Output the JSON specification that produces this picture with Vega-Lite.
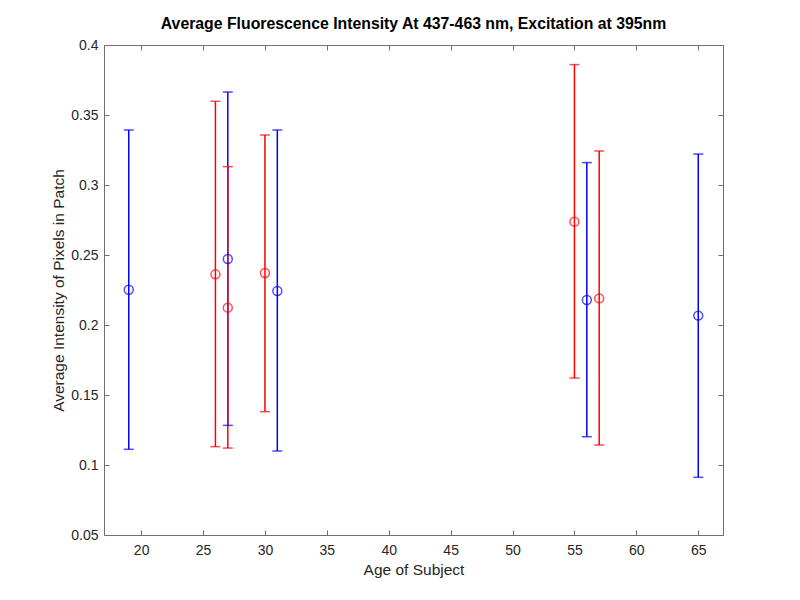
{
  "$schema": "https://vega.github.io/schema/vega-lite/v6.json",
  "autosize": "none",
  "width": 619,
  "height": 490,
  "padding": {"left": 104, "top": 45, "right": 77, "bottom": 65},
  "background": "white",
  "config": {
    "font": "Liberation Sans",
    "view": {"stroke": null},
    "axis": {
      "grid": false,
      "domainColor": "#707070",
      "domainWidth": 1,
      "tickColor": "#707070",
      "tickWidth": 1,
      "tickSize": -5,
      "labelColor": "#262626",
      "labelFont": "Liberation Sans",
      "labelFontSize": 14,
      "titleColor": "#262626",
      "titleFont": "Liberation Sans",
      "titleFontSize": 15.5,
      "titleFontWeight": "normal"
    }
  },
  "title": {
    "text": "Average Fluorescence Intensity At 437-463 nm, Excitation at 395nm",
    "font": "Liberation Sans",
    "fontSize": 15.8,
    "fontWeight": "bold",
    "color": "#000000",
    "offset": 5
  },
  "data": {
    "values": [
      {"age": 19, "mean": 0.2252, "lo": 0.1112, "hi": 0.3393, "group": "blue"},
      {"age": 26, "mean": 0.2362, "lo": 0.1131, "hi": 0.3598, "group": "red"},
      {"age": 27, "mean": 0.2471, "lo": 0.1283, "hi": 0.3664, "group": "blue"},
      {"age": 27, "mean": 0.2124, "lo": 0.1121, "hi": 0.3131, "group": "red"},
      {"age": 30, "mean": 0.2371, "lo": 0.1381, "hi": 0.3357, "group": "red"},
      {"age": 31, "mean": 0.2243, "lo": 0.1100, "hi": 0.3393, "group": "blue"},
      {"age": 55, "mean": 0.2738, "lo": 0.1621, "hi": 0.3860, "group": "red"},
      {"age": 56, "mean": 0.2179, "lo": 0.1202, "hi": 0.3160, "group": "blue"},
      {"age": 57, "mean": 0.2190, "lo": 0.1143, "hi": 0.3243, "group": "red"},
      {"age": 65, "mean": 0.2067, "lo": 0.0912, "hi": 0.3221, "group": "blue"}
    ]
  },
  "resolve": {"axis": {"x": "independent", "y": "independent"}},
  "layer": [
    {
      "layer": [
        {
          "mark": {"type": "rule", "strokeWidth": 1.5},
          "encoding": {
            "y": {"field": "lo", "type": "quantitative"},
            "y2": {"field": "hi"}
          }
        },
        {
          "mark": {"type": "tick", "orient": "horizontal", "size": 10, "thickness": 1.5},
          "encoding": {"y": {"field": "lo", "type": "quantitative"}}
        },
        {
          "mark": {"type": "tick", "orient": "horizontal", "size": 10, "thickness": 1.5},
          "encoding": {"y": {"field": "hi", "type": "quantitative"}}
        },
        {
          "mark": {"type": "point", "shape": "circle", "size": 80, "strokeWidth": 1.5, "filled": false},
          "encoding": {"y": {"field": "mean", "type": "quantitative"}}
        }
      ],
      "encoding": {
        "x": {
          "field": "age", "type": "quantitative",
          "scale": {"domain": [17, 67], "nice": false, "zero": false},
          "axis": {"title": "Age of Subject", "values": [20, 25, 30, 35, 40, 45, 50, 55, 60, 65], "labelPadding": 13, "titlePadding": 5}
        },
        "y": {
          "scale": {"domain": [0.05, 0.4], "nice": false, "zero": false},
          "axis": {"title": "Average Intensity of Pixels in Patch", "format": ".2~f", "values": [0.05, 0.1, 0.15, 0.2, 0.25, 0.3, 0.35, 0.4], "labelPadding": 11, "titlePadding": 4}
        },
        "color": {
          "field": "group", "type": "nominal",
          "scale": {"domain": ["blue", "red"], "range": ["#0000ff", "#ff0000"]},
          "legend": null
        }
      }
    },
    {
      "mark": {"type": "point", "opacity": 0},
      "encoding": {
        "x": {
          "field": "age", "type": "quantitative",
          "axis": {"orient": "top", "labels": false, "title": null, "values": [20, 25, 30, 35, 40, 45, 50, 55, 60, 65]}
        },
        "y": {
          "field": "mean", "type": "quantitative",
          "axis": {"orient": "right", "labels": false, "title": null, "values": [0.05, 0.1, 0.15, 0.2, 0.25, 0.3, 0.35, 0.4]}
        }
      }
    }
  ]
}
